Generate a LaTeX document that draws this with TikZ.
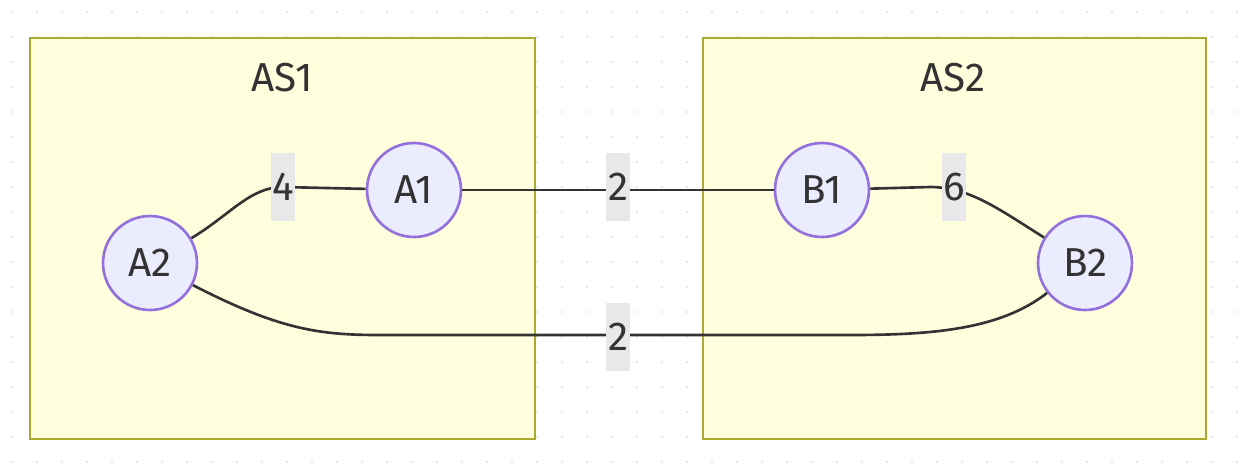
\documentclass[tikz,border=0pt]{standalone}
\usepackage{fontspec}
\setmainfont{Fira Sans}
\begin{document}
\begin{tikzpicture}[x=0.02cm,y=-0.02cm,
  box/.style={draw=boxline,fill=boxfill,line width=1.5pt},
  nd/.style={circle,draw=ndline,fill=ndfill,line width=1.5pt,minimum size=1.88cm,inner sep=0pt,font=\fontsize{23}{26}\selectfont,text=txt},
  lbl/.style={fill=lblbg,inner sep=0pt,minimum width=0.48cm,minimum height=1.36cm,font=\fontsize{23}{26}\selectfont,text=txt},
  ttl/.style={font=\fontsize{23}{26}\selectfont,text=txt},
  ed/.style={draw=edgec,line width=1.5pt}]
\definecolor{boxline}{HTML}{AAAA33}
\definecolor{boxfill}{HTML}{FFFFDE}
\definecolor{ndline}{HTML}{9370DB}
\definecolor{ndfill}{HTML}{ECECFF}
\definecolor{lblbg}{HTML}{E8E8E8}
\definecolor{edgec}{HTML}{333333}
\definecolor{txt}{HTML}{333333}
\useasboundingbox (0,0) rectangle (1248,468);
\fill[white] (0,0) rectangle (1248,468);
\foreach \i in {0,...,50} \foreach \j in {0,...,19}
  \fill[black!12] (12+25*\i,12+25*\j) circle (1.2);
\draw[box] (30,38) rectangle (535,439);
\draw[box] (703,38) rectangle (1206,439);
\node[ttl] (t1) at (282,78) {AS1};
\node[ttl] (t2) at (953,78) {AS2};
\node[nd] (A1) at (414,190) {A1};
\node[nd] (A2) at (150,263) {A2};
\node[nd] (B1) at (822,190) {B1};
\node[nd] (B2) at (1085,263) {B2};
\coordinate (c1) at (283,187);
\draw[ed] (A2) .. controls (230,215) and (250,187) .. (c1) -- (A1);
\draw[ed] (A1) -- (B1);
\draw[ed] (B1) -- (930,187) .. controls (970,187) and (1000,210) .. (B2);
\draw[ed] (A2) .. controls (280,330) and (320,335) .. (380,335) -- (850,335) .. controls (930,335) and (1000,330) .. (B2);
\node[lbl] (l4) at (283,187) {4};
\node[lbl] (l2a) at (618,187) {2};
\node[lbl] (l6) at (954,187) {6};
\node[lbl] (l2b) at (618,337) {2};
\end{tikzpicture}
\end{document}
